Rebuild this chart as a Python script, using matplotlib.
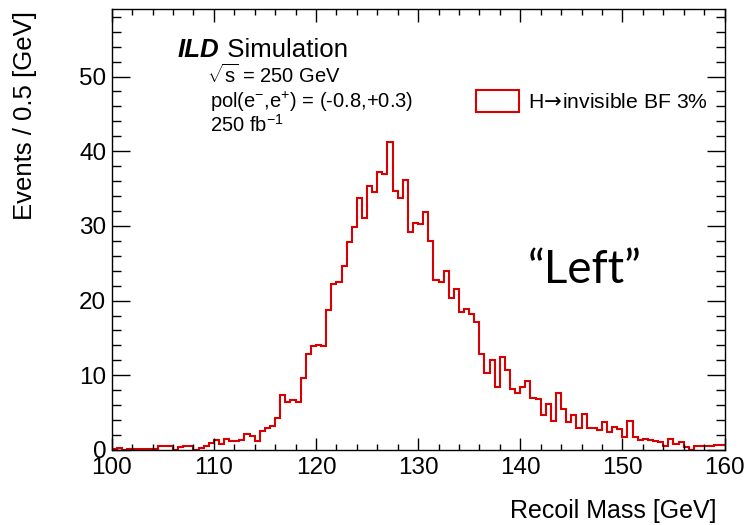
import numpy as np
import matplotlib.pyplot as plt
from matplotlib.patches import Patch

plt.rcParams['font.family'] = ['Liberation Sans', 'DejaVu Sans']
plt.rcParams['mathtext.fontset'] = 'custom'
plt.rcParams['mathtext.rm'] = 'Liberation Sans'
plt.rcParams['mathtext.it'] = 'Liberation Sans:italic'
plt.rcParams['mathtext.bf'] = 'Liberation Sans:bold'
plt.rcParams['mathtext.sf'] = 'DejaVu Sans'

# histogram: recoil mass, 0.5 GeV bins from 100 to 160
bin_lo = 100.0
bin_hi = 160.0
bin_width = 0.5
counts = [
    0.1, 0.25, 0.05, 0.2, 0.1, 0.1, 0.15, 0.1, 0.1, 0.5,      # 100 - 105
    0.5, 0.5, 0.05, 0.35, 0.5, 0.5, 0.05, 0.3, 0.5, 0.9,      # 105 - 110
    1.3, 0.8, 1.5, 1.2, 1.2, 1.3, 2.1, 1.85, 1.2, 2.6,        # 110 - 115
    2.9, 3.2, 4.3, 7.4, 6.4, 6.7, 6.4, 9.7, 12.8, 13.9,       # 115 - 120
    14.0, 13.9, 18.7, 22.2, 22.5, 24.6, 27.9, 29.9, 33.8, 31.0,  # 120 - 125
    35.4, 34.5, 37.2, 37.0, 41.3, 34.7, 33.8, 36.2, 29.2, 30.4,  # 125 - 130
    30.2, 31.8, 28.0, 22.7, 22.5, 24.0, 20.4, 21.6, 18.5, 18.9,  # 130 - 135
    18.2, 17.2, 12.9, 10.3, 12.1, 8.5, 12.5, 10.7, 8.1, 7.6,     # 135 - 140
    8.5, 9.2, 7.0, 6.8, 4.7, 6.2, 3.9, 7.6, 5.5, 3.8,         # 140 - 145
    4.7, 2.9, 4.8, 2.9, 3.0, 2.7, 3.8, 2.4, 3.1, 2.8,         # 145 - 150
    1.8, 3.9, 1.8, 1.3, 1.5, 1.3, 1.2, 1.1, 0.6, 1.5,         # 150 - 155
    0.8, 1.1, 0.4, 0.05, 0.5, 0.6, 0.6, 0.6, 0.7, 0.7,        # 155 - 160
]
hist_label = r'H$\!\mathsf{\rightarrow}\!$invisible BF 3%'
red = '#d80000'

edges = np.arange(bin_lo, bin_hi + bin_width / 2, bin_width)

fig = plt.figure(figsize=(7.45, 5.25), dpi=100)
ax = fig.add_axes([111.7 / 745, 1 - 450 / 525, (724.5 - 111.7) / 745, (450 - 9.3) / 525])

ax.stairs(counts, edges, baseline=None, color=red, lw=1.5)

ax.set_xlim(bin_lo, bin_hi)
ax.set_ylim(0, 59)
ax.set_xticks(np.arange(100, 161, 10))
ax.set_xticks(np.arange(100, 161, 2), minor=True)
ax.set_yticks(np.arange(0, 51, 10))
ax.set_yticks(np.arange(0, 59, 2), minor=True)
ax.tick_params(which='both', direction='in', top=True, right=True, width=1, labelsize=17.5)
ax.tick_params(axis='x', which='major', length=9, pad=5)
ax.tick_params(axis='x', which='minor', length=4.5)
ax.tick_params(axis='y', which='major', length=13, pad=4)
ax.tick_params(axis='y', which='minor', length=6.5)
for s in ax.spines.values():
    s.set_linewidth(1)

fig.text(717 / 745, 1 - 511 / 525, 'Recoil Mass [GeV]', ha='right', va='center', fontsize=18)
fig.text(25 / 745, 1 - 11 / 525, 'Events / 0.5 [GeV]', rotation=90, ha='center', va='top', fontsize=18.5)

# ILD label
t = fig.text(178 / 745, 1 - 57 / 525, 'ILD', fontsize=18.6, fontweight='bold', fontstyle='italic', va='baseline')
ax.annotate(' Simulation', xy=(1, 0), xycoords=t, fontsize=18.6, va='bottom')
fig.text(207 / 745, 1 - 83 / 525, r'$\sqrt{\mathrm{s}}$ = 250 GeV', fontsize=14.5, va='baseline')
fig.text(210 / 745, 1 - 108 / 525, r'pol(e$^{-}$,e$^{+}$) = (-0.8,+0.3)', fontsize=14.5, va='baseline')
fig.text(210 / 745, 1 - 132 / 525, r'250 fb$^{-1}$', fontsize=14.5, va='baseline')

# legend
ax.legend(handles=[Patch(facecolor='white', edgecolor=red, lw=1.5, label=hist_label)],
          loc='center left', bbox_to_anchor=((476 - 111.7) / 612.8, (450 - 101) / 440.7),
          frameon=False, fontsize=15.2, borderpad=0, borderaxespad=0,
          handlelength=2.05, handleheight=1.25, handletextpad=0.4)

fig.text(585 / 745, 1 - 270 / 525, '\u201cLeft\u201d', fontsize=33, family='Lato', ha='center', va='center')

fig.savefig('out.png', dpi=100)
